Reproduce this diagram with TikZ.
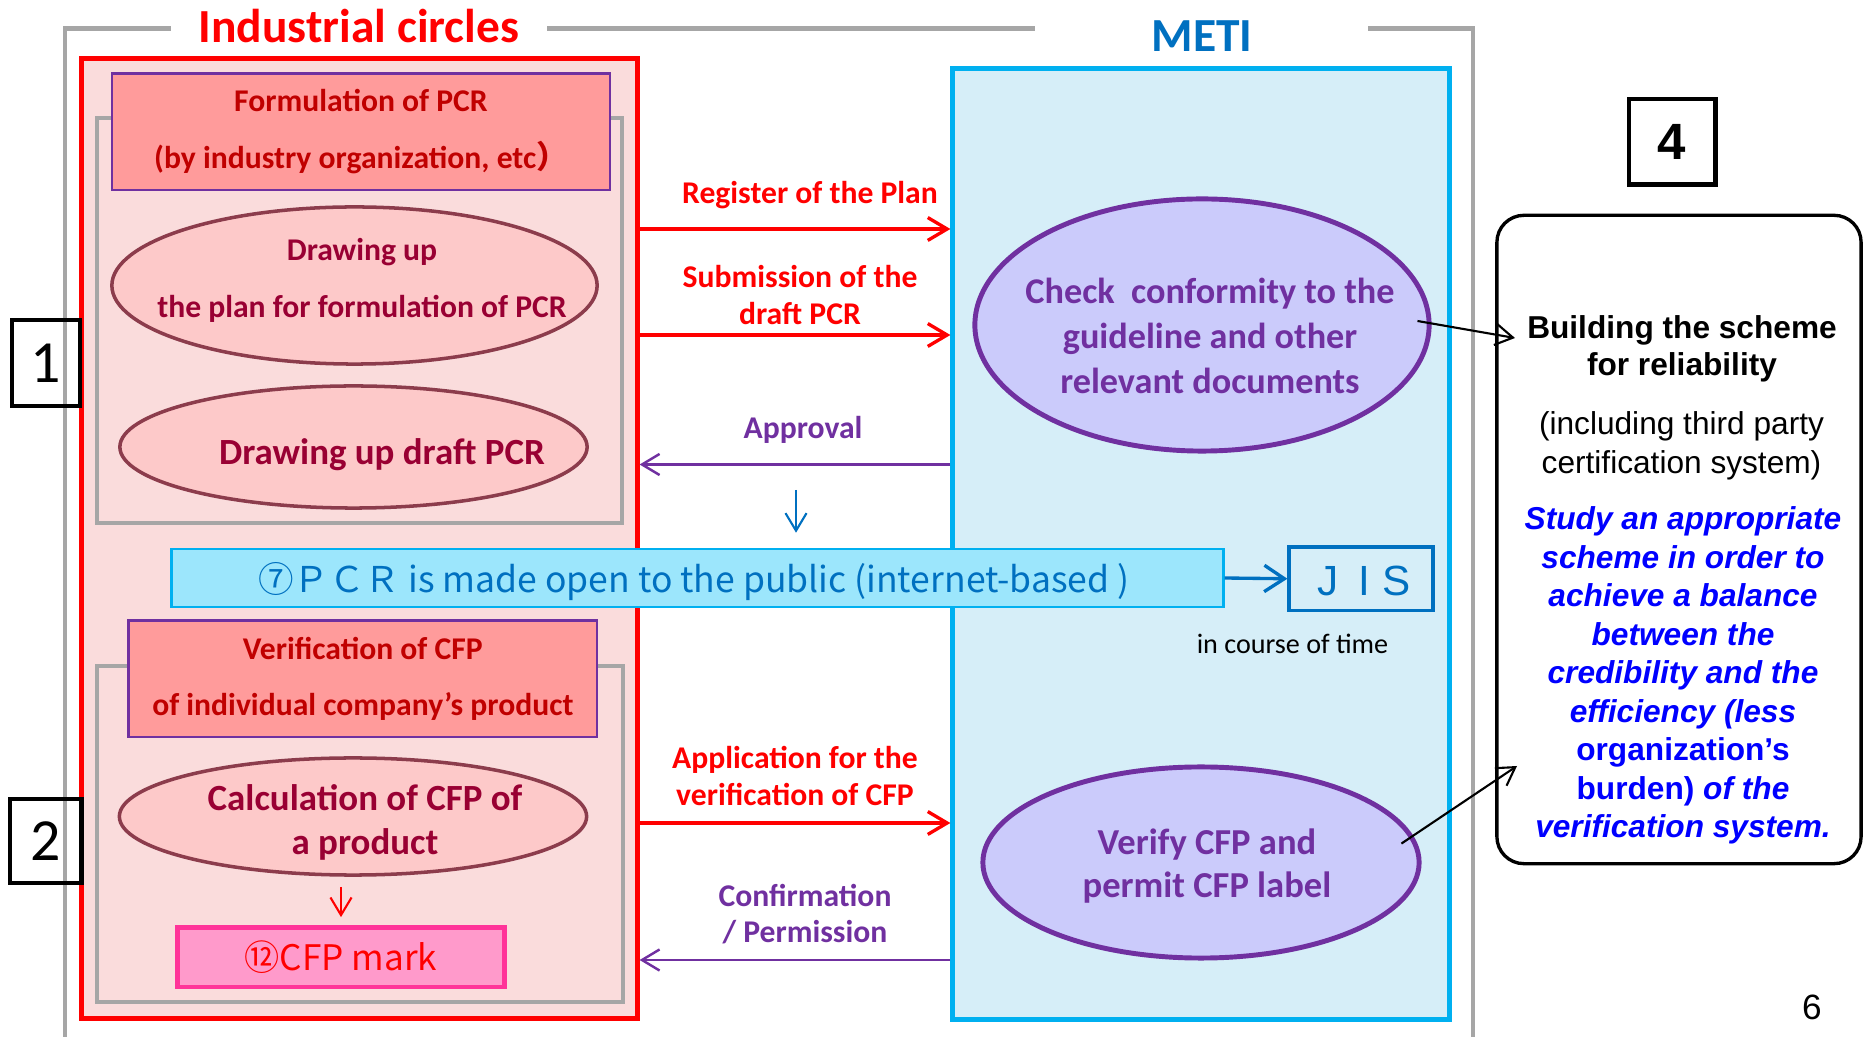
\documentclass[tikz,border=0pt]{standalone}
\usepackage{fontspec}
\setmainfont{Carlito}
\newfontfamily\arialf{Liberation Sans}
\newfontfamily\cjkf{Noto Sans CJK JP}
\usetikzlibrary{arrows.meta}
\usetikzlibrary{shapes.geometric}
\usetikzlibrary{calc}
\definecolor{framegray}{HTML}{A6A6A6}
\definecolor{indfill}{HTML}{FADCDC}
\definecolor{metifill}{HTML}{D6EEF8}
\definecolor{metiline}{HTML}{00B0F0}
\definecolor{metiblue}{HTML}{0070C0}
\definecolor{purp}{HTML}{7030A0}
\definecolor{salmon}{HTML}{FF9B9B}
\definecolor{hdred}{HTML}{C00000}
\definecolor{pinkfill}{HTML}{FDC9C9}
\definecolor{roseline}{HTML}{8C3C4C}
\definecolor{crimson}{HTML}{990033}
\definecolor{lav}{HTML}{CBCBFB}
\definecolor{bannerfill}{HTML}{9CE6FC}
\definecolor{markfill}{HTML}{FF9ACB}
\definecolor{markline}{HTML}{FF3399}
\definecolor{studyblue}{HTML}{0000FF}
\begin{document}
\begin{tikzpicture}[x=0.01cm,y=-0.01cm,
  hdr/.style={draw=purp,line width=0.7pt,fill=salmon,text=hdred,align=center,inner sep=0pt,font=\bfseries\fontsize{9}{16.2}\selectfont},
  pel/.style={ellipse,draw=roseline,line width=1pt,fill=pinkfill,inner sep=0pt},
  vel/.style={ellipse,draw=purp,line width=1.4pt,fill=lav,inner sep=0pt},
  ptxt/.style={text=crimson,align=center,font=\bfseries\fontsize{10.5}{12.5}\selectfont},
  vtxt/.style={text=purp,align=center},
  gbox/.style={draw=framegray,line width=1.15pt,inner sep=0pt},
  numbox/.style={draw,line width=1.4pt,inner sep=0pt},
  lbl/.style={align=center,font=\bfseries\fontsize{9}{10.3}\selectfont},
  redarr/.style={red,line width=0.95pt,-{Straight Barb[length=5.5pt,width=6.5pt]}},
  purarr/.style={purp,line width=0.7pt,-{Straight Barb[length=5pt,width=6pt]}},
  thinarr/.style={line width=0.6pt,-{Straight Barb[length=5pt,width=6pt]}}]
  \useasboundingbox (0,0) rectangle (1863,1037);
  \draw[framegray,line width=1.3pt] (65,1037) -- (65,28.6) -- (171,28.6);
  \draw[framegray,line width=1.3pt] (547,28.6) -- (1035,28.6);
  \draw[framegray,line width=1.3pt] (1368,28.6) -- (1473,28.6) -- (1473,1037);
  \node (indt) at (359,43)[anchor=base,text=red,font=\bfseries\fontsize{13.5}{16}\selectfont]{Industrial circles};
  \node (metit) at (1202,52)[anchor=base,text=metiblue,font=\bfseries\fontsize{13.5}{16}\selectfont]{METI};

  \node (ind) at (359.5,538.5)[draw=red,line width=1.4pt,fill=indfill,minimum width=5.55cm,minimum height=9.59cm,inner sep=0pt]{};
  \node (meti) at (1201.25,543.8)[draw=metiline,line width=1.4pt,fill=metifill,minimum width=4.965cm,minimum height=9.504cm,inner sep=0pt]{};
  \node (g1) at (359.5,320.25)[gbox,minimum width=5.25cm,minimum height=4.045cm]{};
  \node (g2) at (360,834)[gbox,minimum width=5.26cm,minimum height=3.36cm]{};
  \node (form) at (361,131.75)[hdr,minimum width=4.98cm,minimum height=1.165cm]{Formulation of PCR\\(by industry organization, etc{\cjkf ）}};
  \node (verif) at (362.8,678.85)[hdr,minimum width=4.684cm,minimum height=1.163cm]{Verification of CFP\\of individual company’s product};

  \node (e1) at (354.5,285.5)[pel,minimum width=4.85cm,minimum height=1.57cm]{};
  \node (e1t) at (362,280)[ptxt,font=\bfseries\fontsize{9}{16.2}\selectfont]{Drawing up\\the plan for formulation of PCR};
  \node (e2) at (353.5,447)[pel,minimum width=4.67cm,minimum height=1.22cm]{};
  \node (e2t) at (382,465)[ptxt,anchor=base]{Drawing up draft PCR};
  \node (e3) at (353,816.5)[pel,minimum width=4.67cm,minimum height=1.17cm]{};
  \node (e3t) at (365,822)[ptxt]{Calculation of CFP of\\a product};
  \node (mark) at (341,957.3)[draw=markline,line width=1.4pt,fill=markfill,minimum width=3.26cm,minimum height=0.594cm,inner sep=0pt,text=red,font=\cjkf\fontsize{10}{12}\selectfont]{⑫CFP mark};
  \draw[thinarr,red,shorten <=0.1cm,shorten >=0.08cm] (mark.north |- e3.south) -- (mark.north);

  \node (e4) at (1202,325)[vel,minimum width=4.54cm,minimum height=2.52cm]{};
  \node (e4t) at (1210,336)[vtxt,font=\bfseries\fontsize{10.3}{12.8}\selectfont]{Check\ \ conformity to the\\guideline and other\\relevant documents};
  \node (e5) at (1201,862.5)[vel,minimum width=4.36cm,minimum height=1.91cm]{};
  \node (e5t) at (1207,866)[vtxt,font=\bfseries\fontsize{10.4}{12.2}\selectfont]{Verify CFP and\\permit CFP label};

  \node (banner) at (697.5,578)[draw=metiline,line width=0.7pt,fill=bannerfill,minimum width=10.51cm,minimum height=0.58cm,inner sep=0pt]{};
  \node (bannert) at (694,593)[anchor=base,text=metiblue,font=\cjkf\fontsize{10.1}{12}\selectfont]{⑦ＰＣＲ is made open to the public (internet-based )};
  \node (jis) at (1361,578.75)[draw=metiblue,line width=0.9pt,minimum width=1.44cm,minimum height=0.635cm,inner sep=0pt]{};
  \node (jist) at (1364,596)[anchor=base,text=metiblue,font=\arialf\fontsize{12}{14}\selectfont]{J\hspace{5.5pt}I\hspace{3.5pt}S};
  \draw[metiblue,line width=0.95pt,-{Straight Barb[length=5.7pt,width=7.5pt]}] (banner.east) -- (jis.west);
  \node (ict) at (1292.5,654)[anchor=base,font=\fontsize{8}{10}\selectfont]{in course of time};
  \coordinate (pub) at (796,490);
  \draw[thinarr,metiblue,shorten >=0.15cm] (pub) -- (pub |- banner.north);

  \draw[redarr] (ind.east |- 0,229) -- (meti.west |- 0,229);
  \node (lreg) at (810,204)[lbl,anchor=base,text=red]{Register of the Plan};
  \draw[redarr] (ind.east |- 0,335) -- (meti.west |- 0,335);
  \node (lsub) at (800,295)[lbl,text=red]{Submission of the\\draft PCR};
  \draw[purarr] (meti.west |- 0,464.5) -- (ind.east |- 0,464.5);
  \node (lapp) at (803,439)[lbl,anchor=base,text=purp]{Approval};
  \draw[redarr] (ind.east |- 0,823) -- (meti.west |- 0,823);
  \node (lver) at (795,776)[lbl,text=red]{Application for the\\verification of CFP};
  \draw[purarr] (meti.west |- 0,960) -- (ind.east |- 0,960);
  \node (lcon) at (805,914)[lbl,text=purp]{Confirmation\\/ Permission};

  \node (n1) at (46,363)[numbox,minimum width=0.68cm,minimum height=0.86cm,font=\fontsize{17}{20}\selectfont]{1};
  \node (n2) at (45.8,841)[numbox,minimum width=0.716cm,minimum height=0.84cm,font=\fontsize{17}{20}\selectfont]{2};
  \node (n4) at (1672,141.75)[numbox,minimum width=0.86cm,minimum height=0.855cm,font=\arialf\bfseries\fontsize{14.5}{16}\selectfont]{4};

  \node (rbox) at (1679,539.5)[draw,line width=0.95pt,rounded corners=0.27cm,minimum width=3.64cm,minimum height=6.48cm,inner sep=0pt]{};
  \node (ttl) at (1682,349)[align=center,font=\arialf\bfseries\fontsize{9}{10.4}\selectfont]{Building the scheme\\for reliability};
  \node (sub) at (1681.5,446)[align=center,font=\arialf\fontsize{9}{11}\selectfont]{(including third party\\certification system)};
  \node (study) at (1683,675.4)[align=center,text=studyblue,font=\arialf\bfseries\itshape\fontsize{9}{10.95}\selectfont]{Study an appropriate\\scheme in order to\\achieve a balance\\between the\\credibility and the\\efficiency (less\\{\upshape organization’s}\\{\upshape burden)} of the\\verification system.};
  \coordinate (tipA) at (1515,338);
  \coordinate (tipB) at (1517,766);
  \draw[thinarr] ($(e4.1)+(-14,0)$) -- (tipA);
  \draw[thinarr] ($(e5.5)+(-16,0)$) -- (tipB);
  \node (pg) at (1812,1019)[anchor=base,font=\arialf\fontsize{10}{12}\selectfont]{6};
\end{tikzpicture}
\end{document}
